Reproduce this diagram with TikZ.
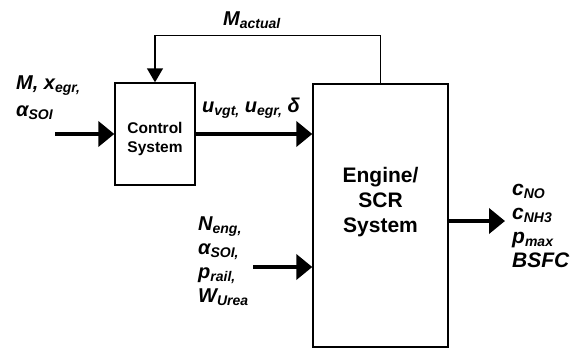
\documentclass[tikz,border=0pt]{standalone}
\usepackage{fontspec}
\setmainfont{Liberation Sans}
\usetikzlibrary{positioning,arrows.meta}

\newcommand{\lsub}[1]{\raisebox{-3pt}{\fontsize{14}{14}\selectfont #1}}

\begin{document}
\begin{tikzpicture}[
    x=1pt, y=-1pt,
    block/.style={rectangle, draw, line width=1.4pt, inner sep=0pt},
    blocktxt/.style={align=center, inner sep=0pt},
    lbl/.style={align=left, inner sep=0pt},
    sig/.style={-{Triangle[length=16pt,width=25pt]}, line width=4.5pt},
    fb/.style={-{Triangle[length=14pt,width=16pt]}, line width=1.4pt}
]
\useasboundingbox (0,0) rectangle (581,351);

\node[block, minimum width=80pt, minimum height=102pt] (ctrl) at (155,134) {};
\node[block, minimum width=135pt, minimum height=263pt] (engine) at (380.5,215.5) {};
\node[blocktxt, anchor=north, font=\fontsize{15.5}{19}\selectfont\bfseries] (ctrltxt) at ([yshift=-40pt]ctrl.north) {Control\\System};
\node[blocktxt, anchor=north, font=\fontsize{21}{25}\selectfont\bfseries] (enginetxt) at ([yshift=-84pt]engine.north) {Engine/\\SCR\\System};

\coordinate (refin) at (55,134);
\coordinate (extin) at (253,267);
\coordinate (outend) at (505,221);

\draw[sig] (refin) -- (ctrl.west);
\draw[sig] (ctrl.east) -- (ctrl.east -| engine.west);
\draw[sig] (extin) -- (extin -| engine.west);
\draw[sig] (outend -| engine.east) -- (outend);
\draw[fb] (engine.north) -- ++(0,-48) -| (ctrl.north);

% signal labels
\node[lbl, anchor=base west, font=\fontsize{20}{24}\selectfont\bfseries\itshape] (mactlbl) at (223,25) {M\lsub{actual}};
\node[lbl, anchor=north west, font=\fontsize{20}{27}\selectfont\bfseries\itshape] (refinlbl) at (16,75.5) {M, x\lsub{egr,}\\α\lsub{SOI}};
\node[lbl, anchor=base west, font=\fontsize{20}{24}\selectfont\bfseries\itshape] (ctrloutlbl) at (202,112) {u\lsub{vgt,} u\lsub{egr,} δ};
\node[lbl, anchor=north west, font=\fontsize{20}{24}\selectfont\bfseries\itshape] (extinlbl) at (198,216.5) {N\lsub{eng,}\\α\lsub{SOI,}\\p\lsub{rail,}\\W\lsub{Urea}};
\node[lbl, anchor=north west, font=\fontsize{21}{24}\selectfont\bfseries\itshape] (outlbl) at (512,184) {c\lsub{NO}\\c\lsub{NH3}\\p\lsub{max}\\BSFC};

\end{tikzpicture}
\end{document}
